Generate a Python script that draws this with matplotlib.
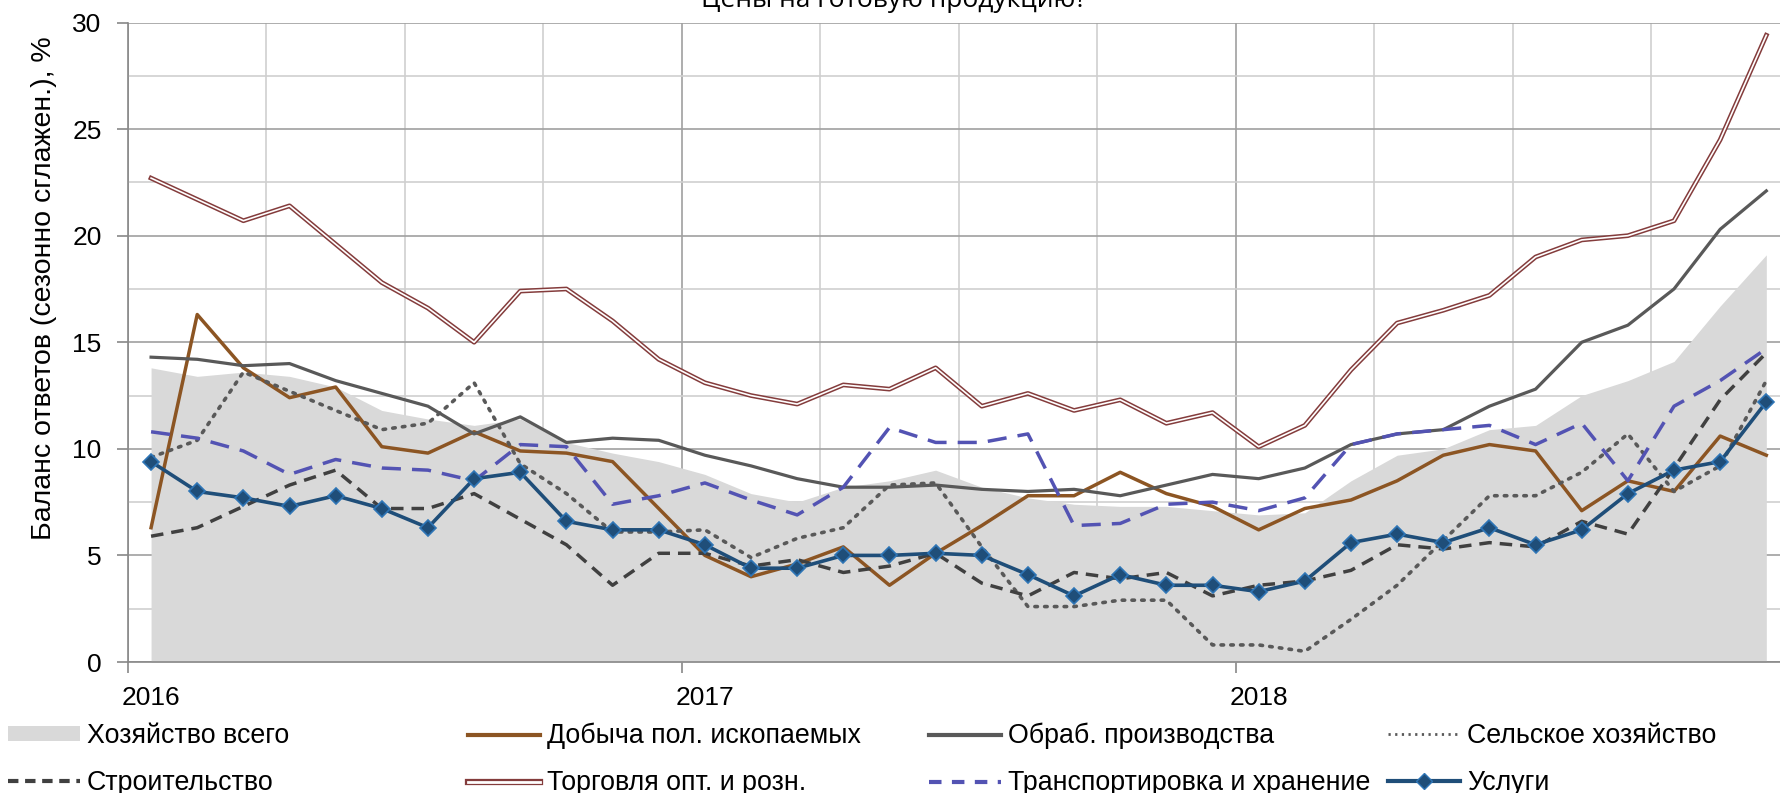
import numpy as np
import matplotlib
matplotlib.use('Agg')
import matplotlib.pyplot as plt
import matplotlib.transforms as mtransforms
from matplotlib.lines import Line2D
from matplotlib.patches import Patch

plt.rcParams['font.family'] = ['Liberation Sans', 'DejaVu Sans']

# monthly values, Jan 2016 .. Dec 2018
vsego = [13.8, 13.4, 13.6, 13.4, 12.9, 11.8, 11.4, 11.1, 11.4, 10.3, 9.8, 9.4,
         8.8, 7.9, 7.5, 8.2, 8.5, 9.0, 8.2, 7.7, 7.4, 7.3, 7.3, 7.1,
         6.9, 7.0, 8.5, 9.7, 10.0, 10.9, 11.1, 12.5, 13.2, 14.1, 16.7, 19.1]
dobycha = [6.3, 16.3, 13.8, 12.4, 12.9, 10.1, 9.8, 10.8, 9.9, 9.8, 9.4, 7.2,
           5.0, 4.0, 4.6, 5.4, 3.6, 5.1, 6.4, 7.8, 7.8, 8.9, 7.9, 7.3,
           6.2, 7.2, 7.6, 8.5, 9.7, 10.2, 9.9, 7.1, 8.5, 8.0, 10.6, 9.7]
obrab = [14.3, 14.2, 13.9, 14.0, 13.2, 12.6, 12.0, 10.7, 11.5, 10.3, 10.5, 10.4,
         9.7, 9.2, 8.6, 8.2, 8.2, 8.3, 8.1, 8.0, 8.1, 7.8, 8.3, 8.8,
         8.6, 9.1, 10.2, 10.7, 10.9, 12.0, 12.8, 15.0, 15.8, 17.5, 20.3, 22.1]
selskoe = [9.6, 10.4, 13.6, 12.7, 11.8, 10.9, 11.2, 13.1, 9.3, 7.9, 6.1, 6.1,
           6.2, 4.9, 5.8, 6.3, 8.3, 8.4, 5.4, 2.6, 2.6, 2.9, 2.9, 0.8,
           0.8, 0.5, 2.0, 3.6, 5.7, 7.8, 7.8, 8.9, 10.7, 8.0, 9.2, 13.2]
stroit = [5.9, 6.3, 7.3, 8.3, 9.0, 7.2, 7.2, 7.9, 6.7, 5.5, 3.6, 5.1,
          5.1, 4.5, 4.8, 4.2, 4.5, 5.1, 3.7, 3.1, 4.2, 3.9, 4.2, 3.1,
          3.6, 3.8, 4.3, 5.5, 5.3, 5.6, 5.4, 6.6, 6.0, 9.1, 12.3, 14.5]
torgovlya = [22.7, 21.7, 20.7, 21.4, 19.6, 17.8, 16.6, 15.0, 17.4, 17.5, 16.0, 14.2,
             13.1, 12.5, 12.1, 13.0, 12.8, 13.8, 12.0, 12.6, 11.8, 12.3, 11.2, 11.7,
             10.1, 11.1, 13.7, 15.9, 16.5, 17.2, 19.0, 19.8, 20.0, 20.7, 24.5, 29.4]
transport = [10.8, 10.5, 9.9, 8.8, 9.5, 9.1, 9.0, 8.5, 10.2, 10.1, 7.4, 7.8,
             8.4, 7.6, 6.9, 8.2, 11.0, 10.3, 10.3, 10.7, 6.4, 6.5, 7.4, 7.5,
             7.1, 7.7, 10.2, 10.7, 10.9, 11.1, 10.2, 11.2, 8.5, 12.0, 13.2, 14.7]
uslugi = [9.4, 8.0, 7.7, 7.3, 7.8, 7.2, 6.3, 8.6, 8.9, 6.6, 6.2, 6.2,
          5.5, 4.4, 4.4, 5.0, 5.0, 5.1, 5.0, 4.1, 3.1, 4.1, 3.6, 3.6,
          3.3, 3.8, 5.6, 6.0, 5.6, 6.3, 5.5, 6.2, 7.9, 9.0, 9.4, 12.2]

years = ['2016', '2017', '2018']
names = ['Хозяйство всего', 'Добыча пол. ископаемых', 'Обраб. производства',
         'Сельское хозяйство', 'Строительство', 'Торговля опт. и розн.',
         'Транспортировка и хранение', 'Услуги']

x = np.arange(len(vsego)) + 0.5

fig = plt.figure(figsize=(17.8, 7.93), dpi=100)
ax = fig.add_axes([128 / 1780, 1 - 662 / 793, 1 - 128 / 1780, (662 - 22.5) / 793])

c_area = '#d9d9d9'
c_brown = '#8c5523'
c_obrab = '#595959'
c_sel = '#595959'
c_str = '#404040'
c_trade = '#843c3c'
c_trans = '#5353b3'
c_usl = '#1f4e79'

ax.fill_between(x, 0, vsego, color=c_area, lw=0, zorder=1)
ax.plot(x, dobycha, color=c_brown, lw=2.5, zorder=3)
ax.plot(x, obrab, color=c_obrab, lw=2.3, zorder=3)
ax.plot(x, selskoe, color=c_sel, lw=2.6, ls=(0, (0.7, 2.0)),
        dash_capstyle='round', zorder=3)
ax.plot(x, stroit, color=c_str, lw=2.5, ls=(0, (3.6, 2.3)), zorder=3)
ax.plot(x, torgovlya, color=c_trade, lw=3.4, zorder=3)
ax.plot(x, torgovlya, color='white', lw=1.2, zorder=3.1)
ax.plot(x, transport, color=c_trans, lw=2.5, ls=(0, (5.5, 3.2)), zorder=3.2)
ax.plot(x, uslugi, color=c_usl, lw=2.6, marker='D', ms=8.5,
        mfc=c_usl, mec='#2e75b6', mew=1.2, zorder=3.3)

ax.set_xlim(0, (1780 - 128) / 46.15)
ax.set_ylim(0, 30)

ax.set_xticks([0, 12, 24])
ax.set_xticklabels(years)
ax.set_xticks(np.arange(3, 36, 3), minor=True)
ax.set_yticks(np.arange(0, 31, 5))
ax.set_yticks(np.arange(2.5, 30, 5), minor=True)
ax.tick_params(axis='both', which='major', labelsize=19, color='#888888',
               length=8, width=1.2)
ax.tick_params(axis='y', which='major', pad=11)
ax.tick_params(axis='x', which='major', pad=9)
ax.tick_params(which='minor', length=0)

offset = mtransforms.ScaledTranslation(0.23, 0, fig.dpi_scale_trans)
for lab in ax.get_xticklabels():
    lab.set_transform(lab.get_transform() + offset)

ax.set_axisbelow(True)
ax.grid(which='major', color='#a0a0a0', lw=1.2)
ax.grid(which='minor', color='#cfcfcf', lw=1.2)
for s in ['top', 'right']:
    ax.spines[s].set_visible(False)
for s in ['left', 'bottom']:
    ax.spines[s].set_color('#888888')
    ax.spines[s].set_linewidth(1.2)

fig.text(0.0245, 1 - 288 / 793, 'Баланс ответов (сезонно сглажен.), %',
         rotation=90, ha='center', va='center', fontsize=20.5)
fig.text(0.502, 1 - 7 / 793, 'Цены на готовую продукцию?', ha='center',
         va='baseline', fontsize=19, family=['Open Sans', 'DejaVu Sans'])

# legend: four columns, two rows each
h_area = Patch(facecolor=c_area, edgecolor='none')
h_brown = Line2D([], [], color=c_brown, lw=3)
h_obrab = Line2D([], [], color=c_obrab, lw=3)
h_sel = Line2D([], [], color=c_sel, lw=2, ls=(0, (0.8, 1.6)))
h_str = Line2D([], [], color=c_str, lw=3, ls=(0, (2.5, 1.6)))
h_trade = (Line2D([], [], color=c_trade, lw=4.5), Line2D([], [], color='white', lw=2))
h_trans = Line2D([], [], color=c_trans, lw=3, ls=(0, (3, 2.5)))
h_usl = Line2D([], [], color=c_usl, lw=3, marker='D', ms=8, mfc=c_usl, mec='#2e75b6')

cols = [([h_area, h_str], [names[0], names[4]], 8),
        ([h_brown, h_trade], [names[1], names[5]], 468),
        ([h_obrab, h_trans], [names[2], names[6]], 929),
        ([h_sel, h_usl], [names[3], names[7]], 1388)]
for hs, ls, xpos in cols:
    leg = fig.legend(hs, ls, loc='upper left', bbox_to_anchor=(xpos / 1780, 1 - 723 / 793),
                     frameon=False, borderpad=0, borderaxespad=0, handlelength=2.7,
                     handletextpad=0.25, labelspacing=0.78, fontsize=19.3,
                     handleheight=0.5)

fig.savefig('out.png', dpi=100)
